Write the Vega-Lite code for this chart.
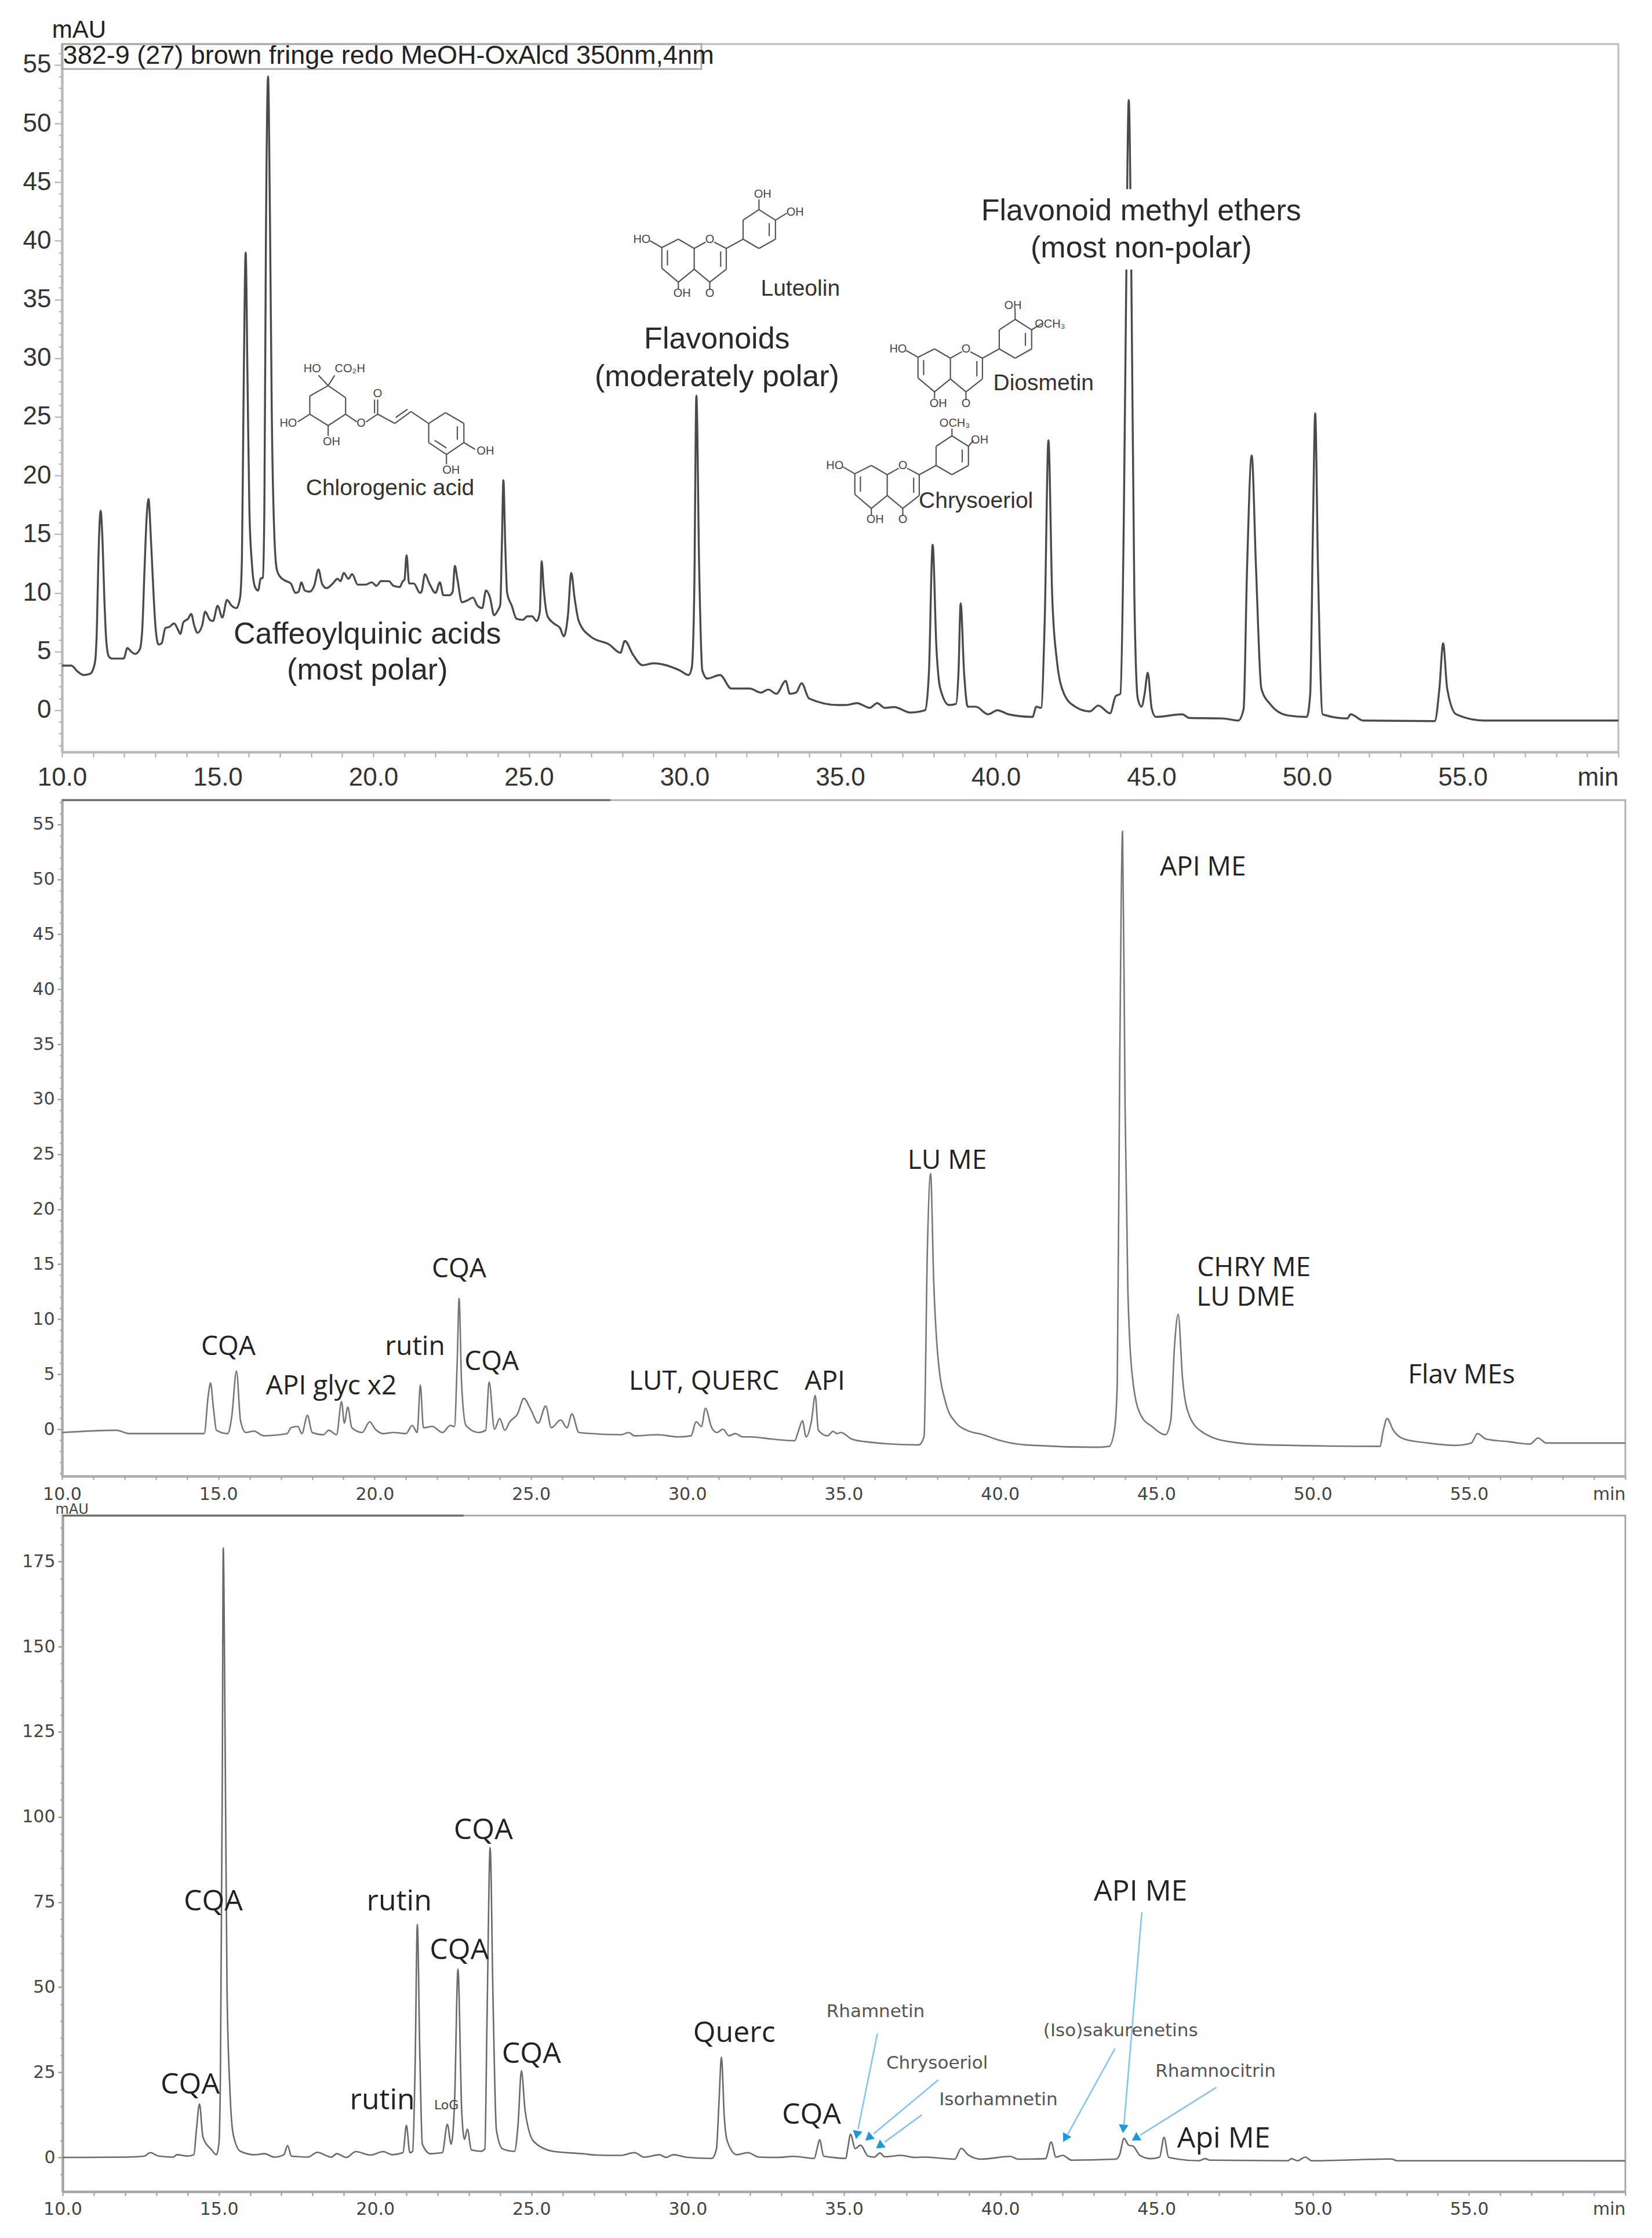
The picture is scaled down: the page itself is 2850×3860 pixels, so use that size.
{"$schema":"https://vega.github.io/schema/vega-lite/v6.json","width":2850,"height":3860,"autosize":{"type":"none"},"padding":0,"background":"white","config":{"view":{"stroke":null},"text":{"font":"Liberation Sans"}},
"datasets":{
"p1":[{"t":10,"v":3.8},{"t":10.3,"v":3.8},{"t":10.5,"v":3.3},{"t":10.7,"v":3},{"t":10.9,"v":3.1},{"t":11,"v":3.5},{"t":11.07,"v":4.3},{"t":11.12,"v":7},{"t":11.17,"v":13},{"t":11.24,"v":17},{"t":11.3,"v":14.5},{"t":11.36,"v":9.5},{"t":11.42,"v":6},{"t":11.5,"v":4.6},{"t":11.6,"v":4.4},{"t":11.85,"v":4.4},{"t":11.98,"v":4.4},{"t":12.1,"v":5.3},{"t":12.22,"v":5},{"t":12.35,"v":4.8},{"t":12.5,"v":5.2},{"t":12.58,"v":7},{"t":12.65,"v":12},{"t":12.72,"v":16.5},{"t":12.78,"v":18},{"t":12.84,"v":15.5},{"t":12.92,"v":11},{"t":13,"v":7.2},{"t":13.1,"v":5.6},{"t":13.2,"v":5.7},{"t":13.32,"v":7},{"t":13.45,"v":7.1},{"t":13.6,"v":7.4},{"t":13.72,"v":6.9},{"t":13.8,"v":6.5},{"t":13.9,"v":7.5},{"t":14.05,"v":7.8},{"t":14.15,"v":8.2},{"t":14.25,"v":7.2},{"t":14.35,"v":6.6},{"t":14.5,"v":7.2},{"t":14.6,"v":8.4},{"t":14.75,"v":7.7},{"t":14.85,"v":7.6},{"t":15,"v":8.9},{"t":15.15,"v":7.9},{"t":15.3,"v":9.4},{"t":15.45,"v":8.9},{"t":15.6,"v":8.7},{"t":15.72,"v":9.6},{"t":15.78,"v":13},{"t":15.83,"v":26},{"t":15.9,"v":39},{"t":15.96,"v":28},{"t":16.02,"v":17},{"t":16.1,"v":12.5},{"t":16.2,"v":10.5},{"t":16.3,"v":10.2},{"t":16.38,"v":11.2},{"t":16.45,"v":11.3},{"t":16.5,"v":17},{"t":16.55,"v":40},{"t":16.62,"v":54},{"t":16.68,"v":42},{"t":16.74,"v":25},{"t":16.82,"v":15},{"t":16.9,"v":12},{"t":17,"v":11.4},{"t":17.2,"v":11},{"t":17.35,"v":10.8},{"t":17.5,"v":10},{"t":17.6,"v":10.1},{"t":17.69,"v":10.9},{"t":17.8,"v":10.2},{"t":17.95,"v":10.1},{"t":18.1,"v":10.6},{"t":18.24,"v":12},{"t":18.35,"v":10.8},{"t":18.5,"v":10.4},{"t":18.7,"v":10.8},{"t":18.85,"v":11.2},{"t":18.95,"v":11},{"t":19.05,"v":11.7},{"t":19.2,"v":11.2},{"t":19.32,"v":11.6},{"t":19.5,"v":10.7},{"t":19.75,"v":10.7},{"t":19.95,"v":10.9},{"t":20.1,"v":10.6},{"t":20.25,"v":11},{"t":20.5,"v":11},{"t":20.65,"v":10.6},{"t":20.85,"v":10.5},{"t":20.95,"v":11},{"t":21,"v":11.1},{"t":21.07,"v":13.2},{"t":21.15,"v":10.8},{"t":21.3,"v":10.8},{"t":21.5,"v":10},{"t":21.55,"v":10.1},{"t":21.66,"v":11.6},{"t":21.8,"v":10.8},{"t":22,"v":10},{"t":22.14,"v":10.9},{"t":22.25,"v":9.8},{"t":22.45,"v":9.8},{"t":22.55,"v":10.1},{"t":22.62,"v":12.3},{"t":22.7,"v":11.2},{"t":22.85,"v":9.2},{"t":23.05,"v":9.4},{"t":23.2,"v":9.6},{"t":23.35,"v":8.9},{"t":23.5,"v":8.7},{"t":23.62,"v":10.2},{"t":23.75,"v":9.6},{"t":23.88,"v":8.1},{"t":24,"v":8.5},{"t":24.08,"v":9},{"t":24.13,"v":14},{"t":24.18,"v":19.6},{"t":24.24,"v":14},{"t":24.3,"v":10},{"t":24.45,"v":8.9},{"t":24.6,"v":7.8},{"t":24.8,"v":7.7},{"t":24.95,"v":8},{"t":25.1,"v":8},{"t":25.25,"v":7.6},{"t":25.35,"v":8.4},{"t":25.41,"v":12.7},{"t":25.47,"v":10.5},{"t":25.6,"v":8},{"t":25.8,"v":7.4},{"t":26,"v":7},{"t":26.12,"v":6.3},{"t":26.25,"v":8},{"t":26.36,"v":11.7},{"t":26.47,"v":9.5},{"t":26.6,"v":7.6},{"t":26.99,"v":6.26},{"t":27.58,"v":5.6},{"t":27.94,"v":4.9},{"t":28.08,"v":5.9},{"t":28.35,"v":4.7},{"t":28.65,"v":3.84},{"t":29,"v":4},{"t":29.84,"v":3.4},{"t":30.13,"v":3},{"t":30.23,"v":3.6},{"t":30.31,"v":9.8},{"t":30.38,"v":26.8},{"t":30.47,"v":12},{"t":30.57,"v":3.4},{"t":30.73,"v":2.7},{"t":31.14,"v":3},{"t":31.5,"v":1.85},{"t":32.09,"v":1.85},{"t":32.45,"v":1.5},{"t":32.69,"v":1.76},{"t":32.95,"v":1.4},{"t":33.25,"v":2.5},{"t":33.38,"v":1.4},{"t":33.58,"v":1.5},{"t":33.76,"v":2.3},{"t":34,"v":1},{"t":34.94,"v":0.44},{"t":35.18,"v":0.44},{"t":35.54,"v":0.6},{"t":35.95,"v":0.2},{"t":36.19,"v":0.6},{"t":36.43,"v":0.2},{"t":36.73,"v":0.27},{"t":37.26,"v":-0.2},{"t":37.73,"v":0},{"t":37.85,"v":3.2},{"t":37.97,"v":14.1},{"t":38.09,"v":5.4},{"t":38.21,"v":1.9},{"t":38.5,"v":0.44},{"t":38.72,"v":0.53},{"t":38.8,"v":3.2},{"t":38.87,"v":9.1},{"t":38.98,"v":3.2},{"t":39.1,"v":0.3},{"t":39.36,"v":0.3},{"t":39.75,"v":-0.35},{"t":40.05,"v":0},{"t":40.41,"v":-0.35},{"t":41.18,"v":-0.57},{"t":41.3,"v":0.3},{"t":41.45,"v":0.2},{"t":41.57,"v":7.6},{"t":41.69,"v":23},{"t":41.81,"v":9.8},{"t":41.95,"v":4.5},{"t":42.19,"v":1.4},{"t":42.55,"v":0.3},{"t":43.02,"v":-0.1},{"t":43.29,"v":0.4},{"t":43.67,"v":-0.26},{"t":43.85,"v":1.2},{"t":44,"v":1.4},{"t":44.11,"v":16},{"t":44.18,"v":34},{"t":44.27,"v":52},{"t":44.35,"v":38},{"t":44.45,"v":9.8},{"t":44.56,"v":1},{"t":44.68,"v":0.3},{"t":44.78,"v":1.4},{"t":44.88,"v":3.2},{"t":45.01,"v":0.1},{"t":45.14,"v":-0.57},{"t":45.99,"v":-0.35},{"t":46.21,"v":-0.66},{"t":47.28,"v":-0.7},{"t":47.79,"v":-0.88},{"t":47.96,"v":0.1},{"t":48.07,"v":12},{"t":48.22,"v":21.7},{"t":48.36,"v":12},{"t":48.53,"v":1.85},{"t":48.81,"v":0.53},{"t":49.37,"v":-0.44},{"t":49.99,"v":-0.57},{"t":50.1,"v":1.4},{"t":50.19,"v":16},{"t":50.26,"v":25.3},{"t":50.35,"v":12},{"t":50.5,"v":-0.35},{"t":51.29,"v":-0.7},{"t":51.4,"v":-0.35},{"t":51.8,"v":-0.88},{"t":54.1,"v":-0.93},{"t":54.25,"v":1.85},{"t":54.37,"v":5.7},{"t":54.5,"v":1.85},{"t":54.79,"v":-0.35},{"t":55.69,"v":-0.88},{"t":60,"v":-0.88}],
"p2":[{"t":10,"v":-0.3},{"t":11.74,"v":-0.1},{"t":12.15,"v":-0.4},{"t":14.55,"v":-0.4},{"t":14.67,"v":2.9},{"t":14.75,"v":4.2},{"t":14.84,"v":2},{"t":14.94,"v":-0.1},{"t":15.3,"v":-0.4},{"t":15.43,"v":1.18},{"t":15.58,"v":5.3},{"t":15.71,"v":0.76},{"t":15.88,"v":-0.3},{"t":16.13,"v":-0.17},{"t":16.46,"v":-0.6},{"t":17.2,"v":-0.4},{"t":17.32,"v":0.13},{"t":17.54,"v":0.25},{"t":17.67,"v":-0.4},{"t":17.85,"v":1.26},{"t":18,"v":-0.3},{"t":18.36,"v":-0.5},{"t":18.53,"v":-0.1},{"t":18.78,"v":-0.5},{"t":18.94,"v":2.5},{"t":19.03,"v":0.55},{"t":19.14,"v":2},{"t":19.27,"v":0.13},{"t":19.6,"v":-0.3},{"t":19.84,"v":0.67},{"t":20.02,"v":0},{"t":20.27,"v":-0.4},{"t":20.6,"v":-0.3},{"t":21,"v":-0.4},{"t":21.2,"v":0.34},{"t":21.36,"v":-0.3},{"t":21.46,"v":4},{"t":21.56,"v":0.13},{"t":21.84,"v":0.25},{"t":22.17,"v":-0.3},{"t":22.42,"v":0.34},{"t":22.55,"v":0.25},{"t":22.64,"v":6.22},{"t":22.7,"v":11.9},{"t":22.78,"v":4.1},{"t":22.92,"v":0.34},{"t":23.33,"v":-0.3},{"t":23.55,"v":-0.1},{"t":23.66,"v":4.3},{"t":23.83,"v":0},{"t":24,"v":0.97},{"t":24.16,"v":-0.1},{"t":24.32,"v":0.67},{"t":24.57,"v":1.39},{"t":24.77,"v":2.8},{"t":24.99,"v":1.8},{"t":25.23,"v":0.55},{"t":25.47,"v":2.1},{"t":25.65,"v":0.13},{"t":25.95,"v":0.84},{"t":26.15,"v":0.13},{"t":26.31,"v":1.39},{"t":26.53,"v":-0.3},{"t":27.88,"v":-0.5},{"t":28.13,"v":-0.3},{"t":28.3,"v":-0.6},{"t":29.05,"v":-0.5},{"t":29.7,"v":-0.7},{"t":30.12,"v":-0.6},{"t":30.28,"v":0.67},{"t":30.45,"v":0.25},{"t":30.58,"v":1.9},{"t":30.78,"v":0.13},{"t":30.95,"v":-0.3},{"t":31.14,"v":0},{"t":31.33,"v":-0.6},{"t":31.53,"v":-0.4},{"t":31.77,"v":-0.7},{"t":32.02,"v":-0.7},{"t":32.7,"v":-0.9},{"t":33.43,"v":-1.05},{"t":33.56,"v":-0.1},{"t":33.68,"v":0.76},{"t":33.8,"v":-0.7},{"t":33.97,"v":0.76},{"t":34.09,"v":3.07},{"t":34.19,"v":-0.1},{"t":34.48,"v":-0.6},{"t":34.66,"v":-0.2},{"t":34.79,"v":-0.4},{"t":34.91,"v":-0.3},{"t":35.26,"v":-0.9},{"t":35.69,"v":-1.14},{"t":37.4,"v":-1.43},{"t":37.57,"v":-0.7},{"t":37.68,"v":16.74},{"t":37.78,"v":23.25},{"t":37.88,"v":13.37},{"t":38,"v":7.06},{"t":38.26,"v":2.44},{"t":38.6,"v":0.55},{"t":38.94,"v":-0.1},{"t":39.46,"v":-0.5},{"t":39.97,"v":-1},{"t":40.83,"v":-1.43},{"t":43.06,"v":-1.64},{"t":43.49,"v":-1.56},{"t":43.66,"v":-0.1},{"t":43.75,"v":4.12},{"t":43.83,"v":33.56},{"t":43.92,"v":54.37},{"t":44,"v":29.35},{"t":44.09,"v":12.53},{"t":44.26,"v":4.12},{"t":44.52,"v":1.18},{"t":44.86,"v":0.25},{"t":45.29,"v":-0.5},{"t":45.46,"v":0.76},{"t":45.58,"v":7.5},{"t":45.7,"v":10.43},{"t":45.84,"v":4.54},{"t":46.06,"v":1.18},{"t":46.49,"v":-0.3},{"t":47.35,"v":-1.14},{"t":48.55,"v":-1.43},{"t":52.15,"v":-1.56},{"t":52.26,"v":-0.1},{"t":52.38,"v":0.97},{"t":52.58,"v":-0.1},{"t":52.93,"v":-0.9},{"t":53.7,"v":-1.26},{"t":54.55,"v":-1.47},{"t":55.07,"v":-1.26},{"t":55.27,"v":-0.4},{"t":55.55,"v":-0.9},{"t":56.27,"v":-1.14},{"t":56.95,"v":-1.35},{"t":57.21,"v":-0.8},{"t":57.47,"v":-1.26},{"t":60,"v":-1.26}],
"p3":[{"t":10,"v":0},{"t":12,"v":0.1},{"t":12.62,"v":0.4},{"t":12.8,"v":1.4},{"t":13.08,"v":0.4},{"t":13.54,"v":0.1},{"t":13.66,"v":0.8},{"t":14,"v":0.4},{"t":14.2,"v":0.8},{"t":14.28,"v":8},{"t":14.38,"v":15.7},{"t":14.49,"v":6},{"t":14.77,"v":2.2},{"t":14.92,"v":0.8},{"t":15,"v":3.9},{"t":15.05,"v":25},{"t":15.11,"v":111},{"t":15.14,"v":179},{"t":15.2,"v":122},{"t":15.26,"v":50},{"t":15.35,"v":20.5},{"t":15.46,"v":6.7},{"t":15.69,"v":1.8},{"t":16.15,"v":0.8},{"t":16.46,"v":1.1},{"t":16.77,"v":0.1},{"t":17.08,"v":0.8},{"t":17.2,"v":3.5},{"t":17.32,"v":0.4},{"t":17.85,"v":0.1},{"t":18.15,"v":1.5},{"t":18.6,"v":0.1},{"t":18.77,"v":1.1},{"t":19.08,"v":0},{"t":19.38,"v":1.7},{"t":19.85,"v":0.7},{"t":20.26,"v":1.7},{"t":20.54,"v":0.8},{"t":20.89,"v":1.4},{"t":21,"v":9.4},{"t":21.11,"v":1.4},{"t":21.2,"v":1.8},{"t":21.28,"v":27.5},{"t":21.35,"v":68.5},{"t":21.43,"v":30},{"t":21.51,"v":3.9},{"t":21.77,"v":1.1},{"t":22.15,"v":1.4},{"t":22.31,"v":9.7},{"t":22.43,"v":3.9},{"t":22.54,"v":16},{"t":22.65,"v":55.3},{"t":22.77,"v":13.6},{"t":22.86,"v":5.3},{"t":22.95,"v":8.3},{"t":23.08,"v":2.2},{"t":23.38,"v":1.8},{"t":23.51,"v":2.5},{"t":23.58,"v":41},{"t":23.68,"v":91},{"t":23.77,"v":47},{"t":23.88,"v":8},{"t":24.08,"v":2.5},{"t":24.46,"v":1.8},{"t":24.57,"v":9.4},{"t":24.68,"v":25.4},{"t":24.8,"v":13.6},{"t":25.08,"v":4.6},{"t":25.69,"v":1.8},{"t":26.62,"v":1.1},{"t":27.08,"v":0.7},{"t":27.85,"v":0.6},{"t":28.3,"v":1.4},{"t":28.6,"v":0.1},{"t":29.1,"v":0.8},{"t":29.3,"v":0},{"t":29.54,"v":0.8},{"t":30,"v":0},{"t":30.77,"v":-0.3},{"t":30.92,"v":2.5},{"t":31,"v":16},{"t":31.08,"v":29.5},{"t":31.17,"v":12},{"t":31.27,"v":4.7},{"t":31.57,"v":0.8},{"t":31.92,"v":1.4},{"t":32.28,"v":0.1},{"t":32.87,"v":0},{"t":33.4,"v":0.3},{"t":34.05,"v":-0.3},{"t":34.14,"v":2.6},{"t":34.22,"v":5.2},{"t":34.35,"v":0.4},{"t":34.65,"v":0},{"t":35.06,"v":-0.3},{"t":35.12,"v":2.6},{"t":35.21,"v":6.8},{"t":35.36,"v":2.6},{"t":35.53,"v":3.6},{"t":35.77,"v":0.4},{"t":35.97,"v":0.1},{"t":36.15,"v":1.3},{"t":36.3,"v":0.2},{"t":36.83,"v":0.6},{"t":37.25,"v":0},{"t":37.6,"v":0.1},{"t":38.55,"v":-0.5},{"t":38.75,"v":2.7},{"t":38.97,"v":0.8},{"t":39.38,"v":-0.5},{"t":40.33,"v":0.3},{"t":40.57,"v":-0.5},{"t":41.45,"v":-0.35},{"t":41.63,"v":4.5},{"t":41.78,"v":0.1},{"t":42,"v":0.6},{"t":42.28,"v":-0.8},{"t":43.7,"v":-0.5},{"t":43.82,"v":0.8},{"t":43.96,"v":5.6},{"t":44.11,"v":3.6},{"t":44.25,"v":3.3},{"t":44.47,"v":0.6},{"t":44.82,"v":-0.35},{"t":45.1,"v":0.1},{"t":45.24,"v":5.9},{"t":45.39,"v":0},{"t":46.36,"v":-0.97},{"t":46.55,"v":-0.35},{"t":46.7,"v":-0.8},{"t":49.21,"v":-0.97},{"t":49.31,"v":-0.35},{"t":49.51,"v":-0.97},{"t":49.76,"v":0.1},{"t":49.96,"v":-0.97},{"t":52.53,"v":-0.45},{"t":52.68,"v":-0.97},{"t":60,"v":-1}],
"bonds":[{"t":29.27,"v":39.43,"t2":29.80,"v2":40.14},{"t":29.80,"v":40.14,"t2":30.31,"v2":39.35},{"t":30.31,"v":39.35,"t2":30.31,"v2":37.58},{"t":30.31,"v":37.58,"t2":29.80,"v2":36.48},{"t":29.80,"v":36.48,"t2":29.27,"v2":37.67},{"t":29.27,"v":37.67,"t2":29.27,"v2":39.43},{"t":30.31,"v":39.35,"t2":30.68,"v2":39.90},{"t":30.95,"v":39.90,"t2":31.34,"v2":39.35},{"t":31.34,"v":39.35,"t2":31.34,"v2":37.58},{"t":31.34,"v":37.58,"t2":30.81,"v2":36.48},{"t":30.81,"v":36.48,"t2":30.31,"v2":37.58},{"t":30.81,"v":36.48,"t2":30.81,"v2":35.82},{"t":31.34,"v":39.35,"t2":31.88,"v2":40.14},{"t":31.88,"v":40.14,"t2":31.88,"v2":41.77},{"t":31.88,"v":41.77,"t2":32.39,"v2":42.66},{"t":32.39,"v":42.66,"t2":32.92,"v2":41.77},{"t":32.92,"v":41.77,"t2":32.92,"v2":40.14},{"t":32.92,"v":40.14,"t2":32.39,"v2":39.35},{"t":32.39,"v":39.35,"t2":31.88,"v2":40.14},{"t":32.39,"v":42.66,"t2":32.39,"v2":43.54},{"t":32.92,"v":41.77,"t2":33.28,"v2":42.35},{"t":29.27,"v":39.43,"t2":28.89,"v2":40.01},{"t":29.80,"v":36.48,"t2":29.80,"v2":35.91},{"t":29.45,"v":37.9,"t2":29.45,"v2":39.2},{"t":31.16,"v":37.8,"t2":31.16,"v2":39.1},{"t":32.72,"v":41.5,"t2":32.72,"v2":40.4},
{"t":37.50,"v":30.08,"t2":38.03,"v2":30.79},{"t":38.03,"v":30.79,"t2":38.54,"v2":30.00},{"t":38.54,"v":30.00,"t2":38.54,"v2":28.23},{"t":38.54,"v":28.23,"t2":38.03,"v2":27.13},{"t":38.03,"v":27.13,"t2":37.50,"v2":28.32},{"t":37.50,"v":28.32,"t2":37.50,"v2":30.08},{"t":38.54,"v":30.00,"t2":38.91,"v2":30.55},{"t":39.18,"v":30.55,"t2":39.57,"v2":30.00},{"t":39.57,"v":30.00,"t2":39.57,"v2":28.23},{"t":39.57,"v":28.23,"t2":39.04,"v2":27.13},{"t":39.04,"v":27.13,"t2":38.54,"v2":28.23},{"t":39.04,"v":27.13,"t2":39.04,"v2":26.47},{"t":39.57,"v":30.00,"t2":40.11,"v2":30.79},{"t":40.11,"v":30.79,"t2":40.11,"v2":32.42},{"t":40.11,"v":32.42,"t2":40.62,"v2":33.31},{"t":40.62,"v":33.31,"t2":41.15,"v2":32.42},{"t":41.15,"v":32.42,"t2":41.15,"v2":30.79},{"t":41.15,"v":30.79,"t2":40.62,"v2":30.00},{"t":40.62,"v":30.00,"t2":40.11,"v2":30.79},{"t":40.62,"v":33.31,"t2":40.62,"v2":34.19},{"t":41.15,"v":32.42,"t2":41.51,"v2":33.00},{"t":37.50,"v":30.08,"t2":37.12,"v2":30.66},{"t":38.03,"v":27.13,"t2":38.03,"v2":26.56},{"t":37.68,"v":28.55,"t2":37.68,"v2":29.85},{"t":39.39,"v":28.45,"t2":39.39,"v2":29.75},{"t":40.95,"v":32.15,"t2":40.95,"v2":31.05},
{"t":35.47,"v":20.15,"t2":36.00,"v2":20.86},{"t":36.00,"v":20.86,"t2":36.51,"v2":20.07},{"t":36.51,"v":20.07,"t2":36.51,"v2":18.30},{"t":36.51,"v":18.30,"t2":36.00,"v2":17.20},{"t":36.00,"v":17.20,"t2":35.47,"v2":18.39},{"t":35.47,"v":18.39,"t2":35.47,"v2":20.15},{"t":36.51,"v":20.07,"t2":36.88,"v2":20.62},{"t":37.15,"v":20.62,"t2":37.54,"v2":20.07},{"t":37.54,"v":20.07,"t2":37.54,"v2":18.30},{"t":37.54,"v":18.30,"t2":37.01,"v2":17.20},{"t":37.01,"v":17.20,"t2":36.51,"v2":18.30},{"t":37.01,"v":17.20,"t2":37.01,"v2":16.54},{"t":37.54,"v":20.07,"t2":38.08,"v2":20.86},{"t":38.08,"v":20.86,"t2":38.08,"v2":22.49},{"t":38.08,"v":22.49,"t2":38.59,"v2":23.38},{"t":38.59,"v":23.38,"t2":39.12,"v2":22.49},{"t":39.12,"v":22.49,"t2":39.12,"v2":20.86},{"t":39.12,"v":20.86,"t2":38.59,"v2":20.07},{"t":38.59,"v":20.07,"t2":38.08,"v2":20.86},{"t":38.59,"v":23.38,"t2":38.59,"v2":24.0},{"t":39.12,"v":22.49,"t2":39.28,"v2":23.0},{"t":35.47,"v":20.15,"t2":35.09,"v2":20.73},{"t":36.00,"v":17.20,"t2":36.00,"v2":16.63},{"t":35.65,"v":18.62,"t2":35.65,"v2":19.92},{"t":37.36,"v":18.52,"t2":37.36,"v2":19.82},{"t":38.92,"v":22.22,"t2":38.92,"v2":21.12},
{"t":18.55,"v":27.66,"t2":19.11,"v2":26.64},{"t":19.11,"v":26.64,"t2":19.11,"v2":25.23},{"t":19.11,"v":25.23,"t2":18.55,"v2":24.26},{"t":18.55,"v":24.26,"t2":17.96,"v2":25.23},{"t":17.96,"v":25.23,"t2":17.96,"v2":26.78},{"t":17.96,"v":26.78,"t2":18.55,"v2":27.66},{"t":18.55,"v":27.66,"t2":18.24,"v2":28.54},{"t":18.55,"v":27.66,"t2":18.76,"v2":28.54},{"t":17.96,"v":25.23,"t2":17.57,"v2":24.57},{"t":18.55,"v":24.26,"t2":18.55,"v2":23.38},{"t":19.11,"v":25.23,"t2":19.47,"v2":24.57},{"t":19.77,"v":24.57,"t2":20.14,"v2":25.23},{"t":20.14,"v":25.23,"t2":20.14,"v2":26.47},{"t":20.04,"v":25.3,"t2":20.04,"v2":26.47},{"t":20.14,"v":25.23,"t2":20.69,"v2":24.44},{"t":20.69,"v":24.44,"t2":21.21,"v2":25.45},{"t":20.72,"v":24.95,"t2":21.1,"v2":25.65},{"t":21.21,"v":25.45,"t2":21.78,"v2":24.44},{"t":21.78,"v":24.44,"t2":22.32,"v2":25.36},{"t":22.32,"v":25.36,"t2":22.91,"v2":24.44},{"t":22.91,"v":24.44,"t2":22.91,"v2":22.81},{"t":22.91,"v":22.81,"t2":22.35,"v2":21.79},{"t":22.35,"v":21.79,"t2":21.78,"v2":22.81},{"t":21.78,"v":22.81,"t2":21.78,"v2":24.44},{"t":22.91,"v":22.81,"t2":23.27,"v2":22.23},{"t":22.35,"v":21.79,"t2":22.35,"v2":20.95},{"t":22.7,"v":24.2,"t2":22.7,"v2":23.05},{"t":21.97,"v":23.0,"t2":22.35,"v2":22.35}],
"big1":[{"t":19.81,"v":6.47,"label":"Caffeoylquinic acids"},{"t":19.81,"v":3.41,"label":"(most polar)"},{"t":31.04,"v":31.6,"label":"Flavonoids"},{"t":31.04,"v":28.41,"label":"(moderately polar)"},{"t":44.67,"v":42.54,"label":"Flavonoid methyl ethers"},{"t":44.67,"v":39.38,"label":"(most non-polar)"}],
"names1":[{"t":20.54,"v":18.92,"label":"Chlorogenic acid"},{"t":33.72,"v":35.91,"label":"Luteolin"},{"t":41.53,"v":27.88,"label":"Diosmetin"},{"t":39.36,"v":17.82,"label":"Chrysoeriol"}],
"chem":[{"t":28.63,"v":40.14,"label":"HO"},{"t":32.51,"v":43.98,"label":"OH"},{"t":33.55,"v":42.43,"label":"OH"},{"t":29.92,"v":35.51,"label":"OH"},{"t":30.81,"v":35.51,"label":"O"},{"t":30.81,"v":40.14,"label":"O"},{"t":36.86,"v":30.79,"label":"HO"},{"t":40.55,"v":34.5,"label":"OH"},{"t":41.74,"v":32.9,"label":"OCH₃"},{"t":38.15,"v":26.16,"label":"OH"},{"t":39.04,"v":26.16,"label":"O"},{"t":39.04,"v":30.79,"label":"O"},{"t":34.83,"v":20.86,"label":"HO"},{"t":38.68,"v":24.44,"label":"OCH₃"},{"t":39.48,"v":23.03,"label":"OH"},{"t":36.12,"v":16.23,"label":"OH"},{"t":37.01,"v":16.23,"label":"O"},{"t":37.01,"v":20.86,"label":"O"},{"t":18.04,"v":29.11,"label":"HO"},{"t":19.25,"v":29.11,"label":"CO₂H"},{"t":20.14,"v":27,"label":"O"},{"t":17.27,"v":24.44,"label":"HO"},{"t":18.66,"v":22.89,"label":"OH"},{"t":19.61,"v":24.44,"label":"O"},{"t":23.6,"v":22.06,"label":"OH"},{"t":22.5,"v":20.47,"label":"OH"}],
"lab2":[{"t":15.32,"v":7.49,"label":"CQA"},{"t":18.61,"v":3.91,"label":"API glyc x2"},{"t":21.29,"v":7.49,"label":"rutin"},{"t":22.7,"v":14.55,"label":"CQA"},{"t":23.74,"v":6.14,"label":"CQA"},{"t":30.53,"v":4.33,"label":"LUT, QUERC"},{"t":34.4,"v":4.33,"label":"API"},{"t":38.31,"v":24.43,"label":"LU ME"},{"t":46.49,"v":51.09,"label":"API ME"},{"t":48.12,"v":14.63,"label":"CHRY ME"},{"t":47.86,"v":11.98,"label":"LU DME"},{"t":54.76,"v":4.88,"label":"Flav MEs"}],
"lab3":[{"t":14.82,"v":75.1,"label":"CQA"},{"t":14.08,"v":21.25,"label":"CQA"},{"t":20.77,"v":75.1,"label":"rutin"},{"t":20.23,"v":16.7,"label":"rutin"},{"t":22.69,"v":60.8,"label":"CQA"},{"t":23.46,"v":96.1,"label":"CQA"},{"t":25,"v":30.3,"label":"CQA"},{"t":31.49,"v":36.4,"label":"Querc"},{"t":33.96,"v":12.5,"label":"CQA"},{"t":44.49,"v":78,"label":"API ME"},{"t":47.15,"v":5.4,"label":"Api ME"}],
"small3":[{"t":36.01,"v":42.7,"label":"Rhamnetin"},{"t":37.98,"v":27.6,"label":"Chrysoeriol"},{"t":39.94,"v":16.9,"label":"Isorhamnetin"},{"t":43.85,"v":37.1,"label":"(Iso)sakurenetins"},{"t":46.89,"v":25.2,"label":"Rhamnocitrin"}],
"arrows":[{"t":36.07,"v":36.4,"t2":35.45,"v2":8.27},{"t":38.02,"v":22.8,"t2":35.95,"v2":6.95},{"t":37.49,"v":12.5,"t2":36.3,"v2":4.5},{"t":43.67,"v":32,"t2":42.16,"v2":6.8},{"t":44.53,"v":72,"t2":43.96,"v2":9.6},{"t":46.92,"v":20.6,"t2":44.47,"v2":6.5}]
},
"resolve":{"scale":{"x":"independent","y":"independent"},"axis":{"x":"independent","y":"independent"}},
"layer":[
{"encoding":{
"x":{"field":"t","type":"quantitative","scale":{"domain":[10,60],"range":[107,2792],"nice":false,"zero":false},"axis":{"orient":"bottom","offset":-2563,"title":null,"grid":false,"values":[10,11,12,13,14,15,16,17,18,19,20,21,22,23,24,25,26,27,28,29,30,31,32,33,34,35,36,37,38,39,40,41,42,43,44,45,46,47,48,49,50,51,52,53,54,55,56,57,58,59,60],"labelExpr":"datum.value==60?'min':(datum.value%5==0?format(datum.value,'.1f'):'')","labelOverlap":false,"labelFlush":false,"labelFont":"Liberation Sans","labelFontSize":44,"labelColor":"#333333","labelPadding":13,"tickSize":9,"tickWidth":2,"tickColor":"#aaaaaa","domainColor":"#aaaaaa","domainWidth":4,"labelAlign":{"condition":{"test":"datum.value==60","value":"right"},"value":"center"}}},
"y":{"field":"v","type":"quantitative","scale":{"domain":[-3.56,56.77],"range":[1297,76],"nice":false,"zero":false},"axis":{"orient":"left","offset":-107,"title":null,"grid":false,"values":[-3,-2,-1,0,1,2,3,4,5,6,7,8,9,10,11,12,13,14,15,16,17,18,19,20,21,22,23,24,25,26,27,28,29,30,31,32,33,34,35,36,37,38,39,40,41,42,43,44,45,46,47,48,49,50,51,52,53,54,55,56],"labelExpr":"datum.value%5==0?datum.label:''","labelOverlap":false,"labelFlush":false,"labelFont":"Liberation Sans","labelFontSize":44,"labelColor":"#333333","labelPadding":6,"tickSize":{"condition":{"test":"datum.value%5==0","value":13},"value":6},"tickWidth":2,"tickColor":"#aaaaaa","domainColor":"#aaaaaa","domainWidth":4}}},
"layer":[
{"data":{"values":[{"t":10,"t2":60,"v":-3.56,"v2":56.77}]},"mark":{"type":"rect","fill":"transparent","stroke":"#bbbbbb","strokeWidth":3},"encoding":{"x2":{"field":"t2"},"y2":{"field":"v2"}}},
{"data":{"name":"p1"},"mark":{"type":"line","color":"#4a4a4a","strokeWidth":3.4,"interpolate":"monotone"}},
{"data":{"values":[{"t":39.48,"t2":50.15,"v":37.55,"v2":44.4}]},"mark":{"type":"rect","fill":"#ffffff"},"encoding":{"x2":{"field":"t2"},"y2":{"field":"v2"}}},
{"data":{"values":[{"t":10,"t2":30.54,"v":54.64,"v2":56.77}]},"mark":{"type":"rect","fill":"transparent","stroke":"#aaaaaa","strokeWidth":3},"encoding":{"x2":{"field":"t2"},"y2":{"field":"v2"}}},
{"data":{"values":[{"t":10.03,"v":55.78,"label":"382-9 (27) brown fringe redo MeOH-OxAlcd 350nm,4nm"}]},"mark":{"type":"text","font":"Liberation Sans","fontSize":45,"color":"#222222","align":"left"},"encoding":{"text":{"field":"label"}}},
{"data":{"values":[{"t":9.68,"v":57.95,"label":"mAU"}]},"mark":{"type":"text","font":"Liberation Sans","fontSize":42,"color":"#222222","align":"left"},"encoding":{"text":{"field":"label"}}},
{"data":{"name":"bonds"},"mark":{"type":"rule","color":"#555555","strokeWidth":2.2},"encoding":{"x2":{"field":"t2"},"y2":{"field":"v2"}}},
{"data":{"name":"chem"},"mark":{"type":"text","font":"Liberation Sans","fontSize":20,"color":"#444444"},"encoding":{"text":{"field":"label"}}},
{"data":{"name":"names1"},"mark":{"type":"text","font":"Liberation Sans","fontSize":39,"color":"#333333"},"encoding":{"text":{"field":"label"}}},
{"data":{"name":"big1"},"mark":{"type":"text","font":"Liberation Sans","fontSize":52,"color":"#2a2a2a"},"encoding":{"text":{"field":"label"}}}
]},
{"encoding":{
"x":{"field":"t","type":"quantitative","scale":{"domain":[10,60],"range":[107,2804],"nice":false,"zero":false},"axis":{"orient":"bottom","offset":-1314,"title":null,"grid":false,"values":[10,11,12,13,14,15,16,17,18,19,20,21,22,23,24,25,26,27,28,29,30,31,32,33,34,35,36,37,38,39,40,41,42,43,44,45,46,47,48,49,50,51,52,53,54,55,56,57,58,59,60],"labelExpr":"datum.value==60?'min':(datum.value%5==0?format(datum.value,'.1f'):'')","labelOverlap":false,"labelFlush":false,"labelFont":"DejaVu Sans","labelFontSize":30,"labelColor":"#444444","labelPadding":10,"tickSize":6,"tickWidth":2,"tickColor":"#999999","domainColor":"#999999","domainWidth":4,"labelAlign":{"condition":{"test":"datum.value==60","value":"right"},"value":"center"}}},
"y":{"field":"v","type":"quantitative","scale":{"domain":[-4.27,57.2],"range":[2546,1380],"nice":false,"zero":false},"axis":{"orient":"left","offset":-107,"title":null,"grid":false,"values":[-4,-3,-2,-1,0,1,2,3,4,5,6,7,8,9,10,11,12,13,14,15,16,17,18,19,20,21,22,23,24,25,26,27,28,29,30,31,32,33,34,35,36,37,38,39,40,41,42,43,44,45,46,47,48,49,50,51,52,53,54,55,56,57],"labelExpr":"datum.value%5==0?datum.label:''","labelOverlap":false,"labelFlush":false,"labelFont":"DejaVu Sans","labelFontSize":30,"labelColor":"#444444","labelPadding":5,"tickSize":{"condition":{"test":"datum.value%5==0","value":8},"value":4},"tickWidth":2,"tickColor":"#888888","domainColor":"#888888","domainWidth":4}}},
"layer":[
{"data":{"values":[{"t":10,"t2":60,"v":-4.27,"v2":57.2}]},"mark":{"type":"rect","fill":"transparent","stroke":"#b0b0b0","strokeWidth":3},"encoding":{"x2":{"field":"t2"},"y2":{"field":"v2"}}},
{"data":{"values":[{"t":10,"t2":27.54,"v":57.2}]},"mark":{"type":"rule","color":"#666666","strokeWidth":3},"encoding":{"x2":{"field":"t2"}}},
{"data":{"name":"p2"},"mark":{"type":"line","color":"#777777","strokeWidth":2.6,"interpolate":"monotone"}},
{"data":{"name":"lab2"},"mark":{"type":"text","font":"Open Sans","fontSize":46,"color":"#222222"},"encoding":{"text":{"field":"label"}}}
]},
{"encoding":{
"x":{"field":"t","type":"quantitative","scale":{"domain":[10,60],"range":[108,2804],"nice":false,"zero":false},"axis":{"orient":"bottom","offset":-80,"title":null,"grid":false,"values":[10,11,12,13,14,15,16,17,18,19,20,21,22,23,24,25,26,27,28,29,30,31,32,33,34,35,36,37,38,39,40,41,42,43,44,45,46,47,48,49,50,51,52,53,54,55,56,57,58,59,60],"labelExpr":"datum.value==60?'min':(datum.value%5==0?format(datum.value,'.1f'):'')","labelOverlap":false,"labelFlush":false,"labelFont":"DejaVu Sans","labelFontSize":30,"labelColor":"#444444","labelPadding":8,"tickSize":7,"tickWidth":2,"tickColor":"#999999","domainColor":"#999999","domainWidth":4,"labelAlign":{"condition":{"test":"datum.value==60","value":"right"},"value":"center"}}},
"y":{"field":"v","type":"quantitative","scale":{"domain":[-10.04,188.5],"range":[3780,2614],"nice":false,"zero":false},"axis":{"orient":"left","offset":-108,"title":null,"grid":false,"values":[-5,0,5,10,15,20,25,30,35,40,45,50,55,60,65,70,75,80,85,90,95,100,105,110,115,120,125,130,135,140,145,150,155,160,165,170,175,180,185],"labelExpr":"datum.value%25==0?datum.label:''","labelOverlap":false,"labelFlush":false,"labelFont":"DejaVu Sans","labelFontSize":30,"labelColor":"#444444","labelPadding":5,"tickSize":{"condition":{"test":"datum.value%25==0","value":8},"value":4},"tickWidth":2,"tickColor":"#888888","domainColor":"#888888","domainWidth":4}}},
"layer":[
{"data":{"values":[{"t":10,"t2":60,"v":-10.04,"v2":188.5}]},"mark":{"type":"rect","fill":"transparent","stroke":"#a8a8a8","strokeWidth":3},"encoding":{"x2":{"field":"t2"},"y2":{"field":"v2"}}},
{"data":{"values":[{"t":10,"t2":22.83,"v":188.5}]},"mark":{"type":"rule","color":"#666666","strokeWidth":3},"encoding":{"x2":{"field":"t2"}}},
{"data":{"name":"p3"},"mark":{"type":"line","color":"#6a6a6a","strokeWidth":2.6,"interpolate":"monotone"}},
{"data":{"name":"arrows"},"mark":{"type":"rule","color":"#86c4ec","strokeWidth":2.6},"encoding":{"x2":{"field":"t2"},"y2":{"field":"v2"}}},
{"data":{"values":[{"t":35.42,"v":7}]},"mark":{"type":"point","shape":"triangle","angle":191,"filled":true,"color":"#1d9ad6","opacity":1,"size":280}},
{"data":{"values":[{"t":35.82,"v":6}]},"mark":{"type":"point","shape":"triangle","angle":230,"filled":true,"color":"#1d9ad6","opacity":1,"size":280}},
{"data":{"values":[{"t":36.17,"v":3.6}]},"mark":{"type":"point","shape":"triangle","angle":234,"filled":true,"color":"#1d9ad6","opacity":1,"size":280}},
{"data":{"values":[{"t":42.1,"v":6}]},"mark":{"type":"point","shape":"triangle","angle":209,"filled":true,"color":"#1d9ad6","opacity":1,"size":280}},
{"data":{"values":[{"t":43.94,"v":8.8}]},"mark":{"type":"point","shape":"triangle","angle":185,"filled":true,"color":"#1d9ad6","opacity":1,"size":280}},
{"data":{"values":[{"t":44.36,"v":5.8}]},"mark":{"type":"point","shape":"triangle","angle":238,"filled":true,"color":"#1d9ad6","opacity":1,"size":280}},
{"data":{"name":"lab3"},"mark":{"type":"text","font":"Open Sans","fontSize":50,"color":"#222222"},"encoding":{"text":{"field":"label"}}},
{"data":{"values":[{"t":22.28,"v":15.3,"label":"LoG"}]},"mark":{"type":"text","font":"DejaVu Sans","fontSize":22,"color":"#444444"},"encoding":{"text":{"field":"label"}}},
{"data":{"values":[{"t":10.3,"v":190.2,"label":"mAU"}]},"mark":{"type":"text","font":"DejaVu Sans","fontSize":24,"color":"#444444"},"encoding":{"text":{"field":"label"}}},
{"data":{"name":"small3"},"mark":{"type":"text","font":"DejaVu Sans","fontSize":31,"color":"#555555"},"encoding":{"text":{"field":"label"}}}
]}
]}
